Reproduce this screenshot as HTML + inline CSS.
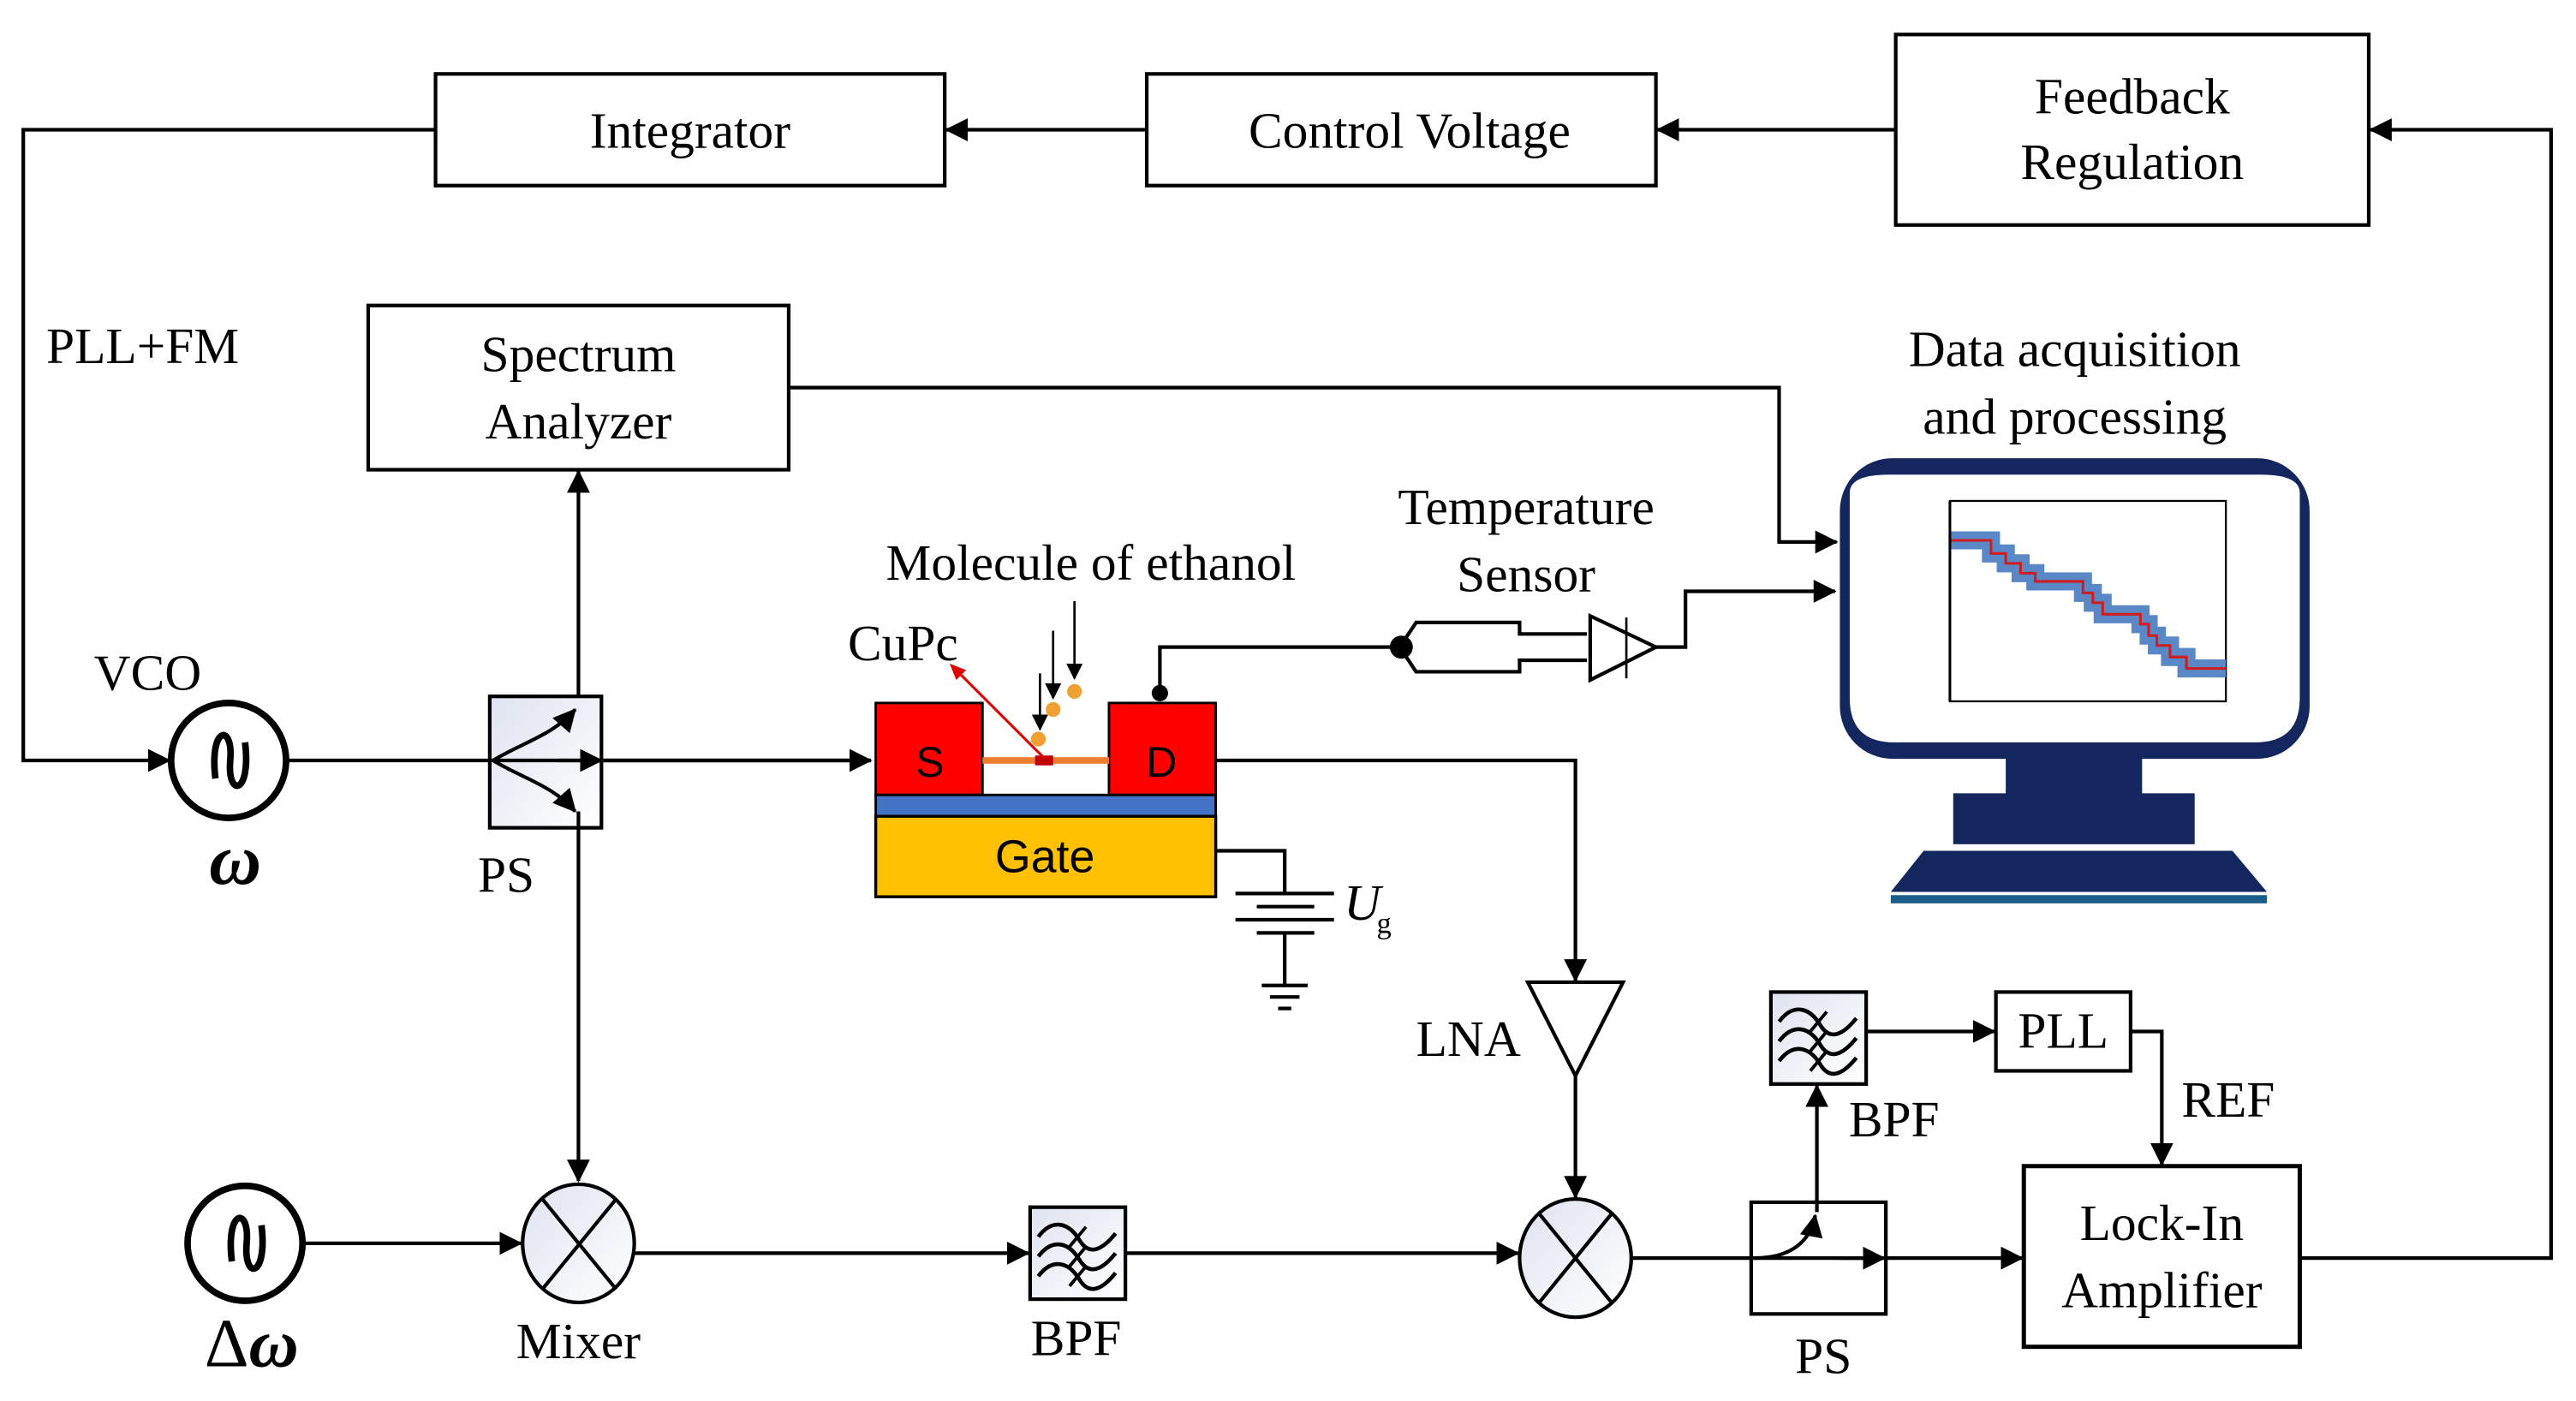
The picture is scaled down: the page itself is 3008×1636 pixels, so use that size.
<!DOCTYPE html>
<html><head><meta charset="utf-8"><style>
html,body{margin:0;padding:0;background:#fff;}
svg{display:block;}
text{font-family:"Liberation Serif",serif;fill:#000;}
</style></head><body>
<svg width="3008" height="1636" viewBox="0 0 1568 853" xmlns="http://www.w3.org/2000/svg">
<defs>
<marker id="ar" markerWidth="10" markerHeight="10" refX="9" refY="5" orient="auto" markerUnits="userSpaceOnUse" viewBox="0 0 10 10">
<path d="M0,0 L10,5 L0,10 Z" fill="#000"/></marker>
<marker id="arb" markerWidth="14" markerHeight="14" refX="13" refY="7" orient="auto" markerUnits="userSpaceOnUse" viewBox="0 0 14 14">
<path d="M0,0 L14,7 L0,14 Z" fill="#000"/></marker>
<linearGradient id="lg" x1="0" y1="0" x2="1" y2="1"><stop offset="0" stop-color="#dfe3f0"/><stop offset="1" stop-color="#ffffff"/></linearGradient>
<g id="bpf">
<path d="M5,18 C14,6 24,10 30,20 S44,26 52,16" fill="none" stroke="#000" stroke-width="2.4"/>
<path d="M5,30 C14,18 24,22 30,32 S44,38 52,28" fill="none" stroke="#000" stroke-width="2.4"/>
<path d="M5,42 C14,30 24,34 30,44 S44,50 52,40" fill="none" stroke="#000" stroke-width="2.4"/>
<path d="M24,24 L34,12 M24,36 L34,24 M24,48 L34,36" stroke="#000" stroke-width="2"/>
</g>
</defs>

<g stroke="#000" fill="none" stroke-width="2.2">
<rect x="265" y="45" width="310" height="68" fill="#fff"/>
<rect x="698" y="45" width="310" height="68" fill="#fff"/>
<rect x="1154" y="21" width="288" height="116" fill="#fff"/>
<line x1="698" y1="79" x2="576" y2="79" marker-end="url(#arb)"/>
<line x1="1154" y1="79" x2="1009" y2="79" marker-end="url(#arb)"/>
<polyline points="1400,766 1553,766 1553,79 1443,79" marker-end="url(#arb)"/>
<polyline points="265,79 14,79 14,463 103,463" marker-end="url(#arb)"/>
<rect x="224" y="186" width="256" height="100" fill="#fff"/>
<polyline points="480,236 1083,236 1083,330 1118,330" marker-end="url(#arb)"/>
<circle cx="139" cy="463" r="35" stroke-width="4"/>
<path d="M131,474 C127,442 142,440 140,463 C138,486 153,484 149,452" stroke-width="4"/>
<line x1="175" y1="463" x2="530" y2="463" marker-end="url(#arb)"/>
<rect x="298" y="424" width="68" height="80" fill="url(#lg)"/>
<line x1="298" y1="463" x2="530" y2="463"/>
<line x1="340" y1="463" x2="366" y2="463" marker-end="url(#arb)"/>
<path d="M300,463 C318,452 336,448 350,432" marker-end="url(#arb)"/>
<path d="M300,463 C318,474 336,478 350,494" marker-end="url(#arb)"/>
<line x1="352" y1="424" x2="352" y2="287" marker-end="url(#arb)"/>
<line x1="352" y1="494" x2="352" y2="719" marker-end="url(#arb)"/>
<circle cx="149" cy="757" r="35" stroke-width="4"/>
<path d="M141,768 C137,736 152,734 150,757 C148,780 163,778 159,746" stroke-width="4"/>
<line x1="185" y1="757" x2="317" y2="757" marker-end="url(#arb)"/>
<ellipse cx="352" cy="757" rx="34" ry="36" fill="url(#lg)"/>
<path d="M330,730 L375,785 M375,730 L330,785"/>
<line x1="386" y1="763" x2="626" y2="763" marker-end="url(#arb)"/>
<rect x="627" y="735" width="58" height="56" fill="url(#lg)"/>
<line x1="685" y1="763" x2="924" y2="763" marker-end="url(#arb)"/>
<ellipse cx="959" cy="766" rx="34" ry="36" fill="url(#lg)"/>
<path d="M937,739 L981,793 M981,739 L937,793"/>
<line x1="993" y1="766" x2="1147" y2="766"/>
<line x1="1120" y1="766" x2="1147" y2="766" marker-end="url(#arb)"/>
<rect x="1066" y="732" width="82" height="68"/>
<path d="M1068,766 C1090,766 1102,756 1105,740" marker-end="url(#arb)"/>
<line x1="1106" y1="738" x2="1106" y2="661" marker-end="url(#arb)"/>
<line x1="1148" y1="766" x2="1231" y2="766" marker-end="url(#arb)"/>
<rect x="1078" y="604" width="58" height="56" fill="url(#lg)"/>
<line x1="1136" y1="628" x2="1214" y2="628" marker-end="url(#arb)"/>
<rect x="1215" y="604" width="82" height="48"/>
<polyline points="1297,628 1316,628 1316,709" marker-end="url(#arb)"/>
<rect x="1232" y="710" width="168" height="110" stroke-width="2.6"/>
<polyline points="740,463 959,463 959,597" marker-end="url(#arb)"/>
<path d="M930,598 L988,598 L959,655 Z"/>
<line x1="959" y1="655" x2="959" y2="729" marker-end="url(#arb)"/>
<polyline points="740,518 782,518 782,544"/>
<line x1="752" y1="544" x2="812" y2="544"/>
<line x1="765" y1="552" x2="800" y2="552"/>
<line x1="752" y1="560" x2="812" y2="560"/>
<line x1="765" y1="568" x2="800" y2="568"/>
<line x1="782" y1="568" x2="782" y2="600"/>
<line x1="768" y1="600" x2="796" y2="600"/>
<line x1="773" y1="607" x2="791" y2="607"/>
<line x1="778" y1="614" x2="786" y2="614"/>
<polyline points="706,422 706,394 852,394"/>
<path d="M856,388 L862,379 L925,379 L925,386 L966,386"/>
<path d="M856,400 L862,409 L925,409 L925,402 L966,402"/>
<path d="M968,375 L1008,394 L968,414 Z"/>
<line x1="990" y1="376" x2="990" y2="413" stroke-width="1.4"/>
<polyline points="1008,394 1026,394 1026,360 1117,360" marker-end="url(#arb)"/>
<line x1="654" y1="366" x2="654" y2="413" stroke-width="1.4" marker-end="url(#ar)"/>
<line x1="641" y1="384" x2="641" y2="425" stroke-width="1.4" marker-end="url(#ar)"/>
<line x1="633" y1="410" x2="633" y2="444" stroke-width="1.4" marker-end="url(#ar)"/>
</g>
<circle cx="706" cy="422" r="5" fill="#000"/>
<circle cx="853" cy="394" r="7" fill="#000"/>
<use href="#bpf" x="627" y="735"/>
<use href="#bpf" x="1078" y="604"/>

<rect x="533" y="428" width="65" height="56" fill="#ff0000" stroke="#000" stroke-width="1.5"/>
<rect x="675" y="428" width="65" height="56" fill="#ff0000" stroke="#000" stroke-width="1.5"/>
<rect x="533" y="484" width="207" height="13" fill="#4472c4" stroke="#000" stroke-width="1.5"/>
<rect x="533" y="497" width="207" height="49" fill="#ffc000" stroke="#000" stroke-width="1.8"/>
<line x1="598" y1="463" x2="675" y2="463" stroke="#ed7d31" stroke-width="4"/>
<rect x="630" y="460" width="11" height="6" fill="#c00000"/>
<line x1="636" y1="462" x2="582" y2="408" stroke="#e00000" stroke-width="1.6"/>
<path d="M578,404 L588,408 L582,414 Z" fill="#e00000"/>
<circle cx="632" cy="450" r="4.5" fill="#f0a030"/>
<circle cx="641" cy="432" r="4.5" fill="#f0a030"/>
<circle cx="654" cy="421" r="4.5" fill="#f0a030"/>

<rect x="1120" y="279" width="286" height="183" rx="32" fill="#13265e"/>
<path d="M1126,300 Q1126,289 1150,289 L1376,289 Q1400,289 1400,300 L1400,425 Q1400,452 1373,452 L1153,452 Q1126,452 1126,425 Z" fill="#fff"/>
<rect x="1221" y="461" width="83" height="23" fill="#13265e"/>
<rect x="1189" y="483" width="147" height="31" fill="#13265e"/>
<path d="M1171,518 L1359,518 L1380,543 L1151,543 Z" fill="#13265e"/>
<rect x="1151" y="545" width="229" height="5" fill="#1b5e8c"/>
<rect x="1187" y="305" width="168" height="122" fill="#fff" stroke="#000" stroke-width="1.2"/>
<path d="M1187,329 L1212,329 L1212,337 L1221,337 L1221,343 L1230,343 L1230,349 L1239,349 L1239,354 L1268,354 L1268,361 L1274,361 L1274,367 L1280,367 L1280,374 L1303,374 L1303,380 L1308,380 L1308,387 L1313,387 L1313,393 L1321,393 L1321,400 L1331,400 L1331,407 L1355,407" fill="none" stroke="#5a88c6" stroke-width="11" stroke-linejoin="miter"/>
<path d="M1187,329 L1212,329 L1212,337 L1221,337 L1221,343 L1230,343 L1230,349 L1239,349 L1239,354 L1268,354 L1268,361 L1274,361 L1274,367 L1280,367 L1280,374 L1303,374 L1303,380 L1308,380 L1308,387 L1313,387 L1313,393 L1321,393 L1321,400 L1331,400 L1331,407 L1355,407" fill="none" stroke="#d01c1c" stroke-width="1.6"/>
<line x1="1187" y1="305" x2="1187" y2="427" stroke="#000" stroke-width="1.6"/>

<g font-size="31">
<text x="420" y="90" text-anchor="middle">Integrator</text>
<text x="858" y="90" text-anchor="middle">Control Voltage</text>
<text x="1298" y="69" text-anchor="middle">Feedback</text>
<text x="1298" y="109" text-anchor="middle">Regulation</text>
<text x="28" y="221">PLL+FM</text>
<text x="352" y="226" text-anchor="middle">Spectrum</text>
<text x="352" y="267" text-anchor="middle">Analyzer</text>
<text x="1263" y="223" text-anchor="middle">Data acquisition</text>
<text x="1263" y="264" text-anchor="middle">and processing</text>
<text x="929" y="319" text-anchor="middle">Temperature</text>
<text x="929" y="360" text-anchor="middle">Sensor</text>
<text x="664" y="353" text-anchor="middle">Molecule of ethanol</text>
<text x="516" y="402">CuPc</text>
<text x="57" y="420">VCO</text>
<text x="308" y="543" text-anchor="middle">PS</text>
<text x="862" y="643">LNA</text>
<text x="352" y="827" text-anchor="middle">Mixer</text>
<text x="655" y="825" text-anchor="middle">BPF</text>
<text x="1110" y="836" text-anchor="middle">PS</text>
<text x="1153" y="692" text-anchor="middle">BPF</text>
<text x="1256" y="638" text-anchor="middle">PLL</text>
<text x="1328" y="680">REF</text>
<text x="1316" y="755" text-anchor="middle">Lock-In</text>
<text x="1316" y="796" text-anchor="middle">Amplifier</text>
<text x="818" y="560" font-style="italic">U</text>
<text x="838" y="568" font-size="18">g</text>
</g>
<text x="566" y="473" text-anchor="middle" font-size="26" style="font-family:'Liberation Sans',sans-serif">S</text>
<text x="707" y="473" text-anchor="middle" font-size="26" style="font-family:'Liberation Sans',sans-serif">D</text>
<text x="636" y="531" text-anchor="middle" font-size="28" style="font-family:'Liberation Sans',sans-serif">Gate</text>
<text x="143" y="538" text-anchor="middle" font-size="44" font-style="italic" font-weight="bold">ω</text>
<text x="153" y="832" text-anchor="middle" font-size="42" style="font-family:'Liberation Serif',serif"><tspan>Δ</tspan><tspan font-style="italic" font-weight="bold">ω</tspan></text>
</svg>
</body></html>
